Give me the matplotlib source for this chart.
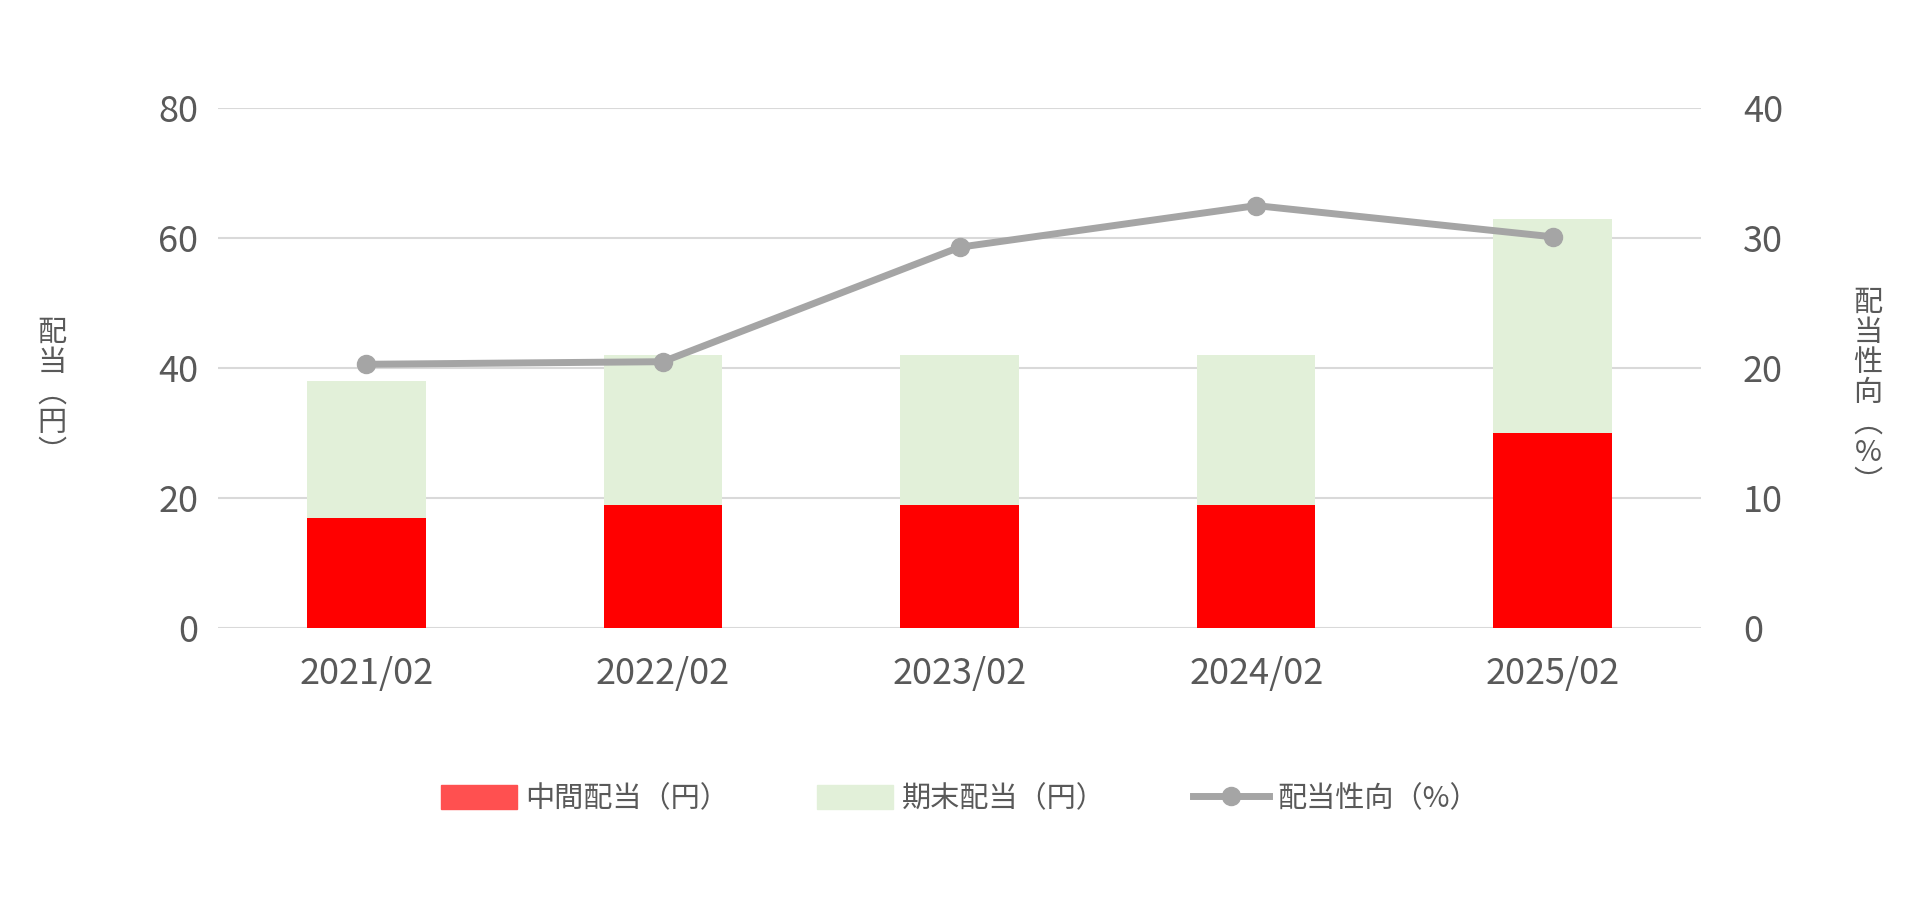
import numpy as np
import matplotlib.pyplot as plt
from matplotlib.lines import Line2D
from matplotlib.patches import Patch

plt.rcParams['font.family'] = ['Noto Sans CJK JP', 'DejaVu Sans']

years = ['2021/02', '2022/02', '2023/02', '2024/02', '2025/02']
interim = [17, 19, 19, 19, 30]
final = [21, 23, 23, 23, 33]
payout = [20.3, 20.5, 29.3, 32.5, 30.1]

grey = '#595959'
fig = plt.figure(figsize=(19.2, 9.08), dpi=100)
ax = fig.add_axes([0.1135, 0.308, 0.7725, 0.573])
x = np.arange(len(years))
ax.bar(x, interim, width=0.4, color='#FF0000', zorder=2)
ax.bar(x, final, width=0.4, bottom=interim, color='#E2F0D9', zorder=2)
ax.set_ylim(0, 80)
ax.set_yticks(range(0, 81, 20))
ax.set_xlim(-0.5, 4.5)
ax.set_xticks(x)
ax.set_xticklabels(years)
ax.grid(axis='y', color='#D9D9D9', linewidth=1.5, zorder=0)
for s in ax.spines.values():
    s.set_visible(False)
ax.tick_params(length=0, labelsize=26, labelcolor=grey, pad=14)
ax.tick_params(axis='x', pad=20)

ax2 = ax.twinx()
ax2.plot(x, payout, color='#A5A5A5', linewidth=5, marker='o', markersize=13, zorder=3)
ax2.set_ylim(0, 40)
ax2.set_yticks(range(0, 41, 10))
for s in ax2.spines.values():
    s.set_visible(False)
ax2.tick_params(length=0, labelsize=26, labelcolor=grey, pad=30)

fig.text(0.027, 0.567, '\n'.join('配当︵円︶'), fontsize=21, color=grey,
         ha='center', va='center', linespacing=1.0)
fig.text(0.973, 0.567, '\n'.join('配当性向︵%︶'), fontsize=21, color=grey,
         ha='center', va='center', linespacing=1.0)

handles = [Patch(color='#FF5050'), Patch(color='#E2F0D9'),
           Line2D([], [], color='#A5A5A5', linewidth=5, marker='o', markersize=13)]
fig.legend(handles, ['中間配当（円）', '期末配当（円）', '配当性向（%）'],
           loc='center', bbox_to_anchor=(0.5, 0.12), ncol=3, frameon=False,
           fontsize=21, labelcolor=grey, handlelength=2.6, columnspacing=3.0,
           handletextpad=0.3, handleheight=0.9)
fig.savefig('out.png')
